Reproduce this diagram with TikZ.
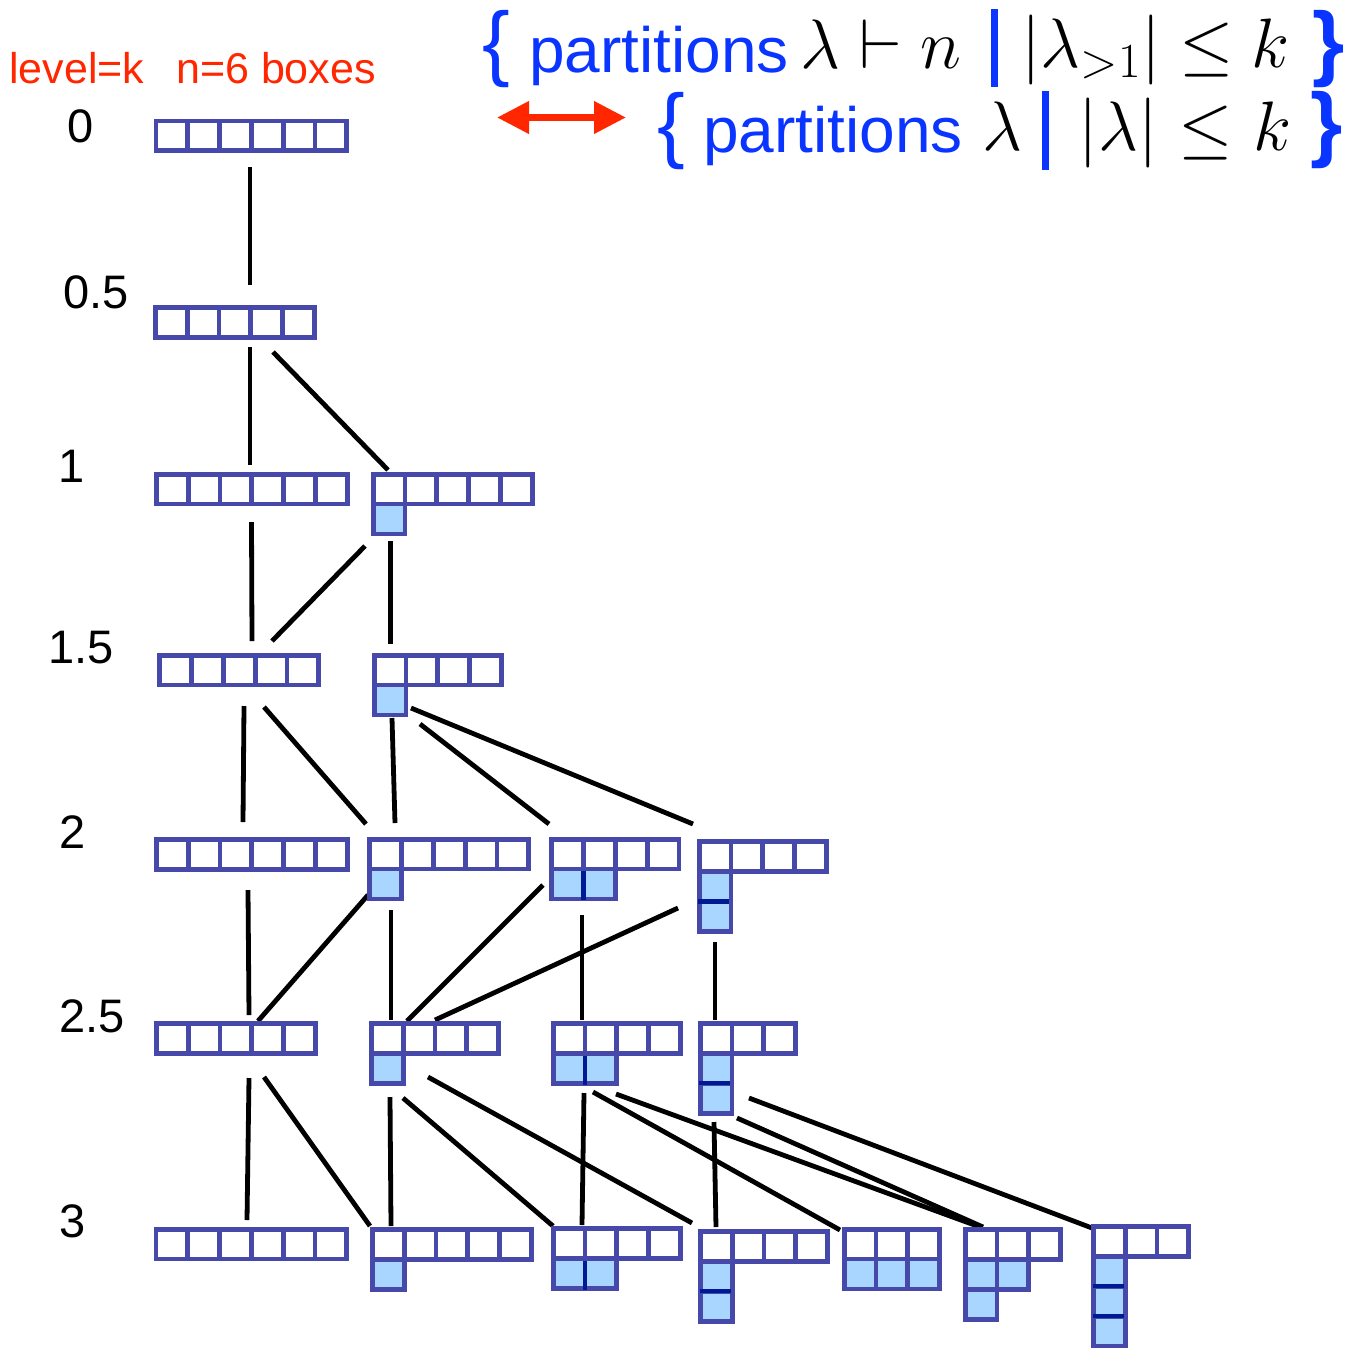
\RequirePackage{fix-cm}
\documentclass[tikz,border=0pt]{standalone}
\usepackage[no-math]{fontspec}
\setmainfont{Liberation Sans}
\usetikzlibrary{arrows.meta}
\definecolor{ybox}{RGB}{70,72,170}
\definecolor{ylight}{RGB}{168,214,255}
\definecolor{ysep}{RGB}{0,26,150}
\definecolor{tblue}{RGB}{10,52,255}
\definecolor{tred}{RGB}{255,38,0}
\newcommand\cellw{31.8}
\newcommand\cellh{29.9}
\newcommand\ydiag[3]{%
 \begin{scope}[shift={(#1+2.4,#2+2.4)}]
 \foreach \rl [count=\j from 0] in {#3} {
   \foreach \i in {1,...,\rl} {
     \ifnum\j=0
       \draw[wcell] ({(\i-1)*\cellw},{\j*\cellh}) rectangle ++(\cellw,\cellh);
     \else
       \draw[bcell] ({(\i-1)*\cellw},{\j*\cellh}) rectangle ++(\cellw,\cellh);
     \fi
   }
 }
 \end{scope}}
\newcommand\sepv[2]{%
 \draw[sepline] ({#1+2.4+\cellw},{#2+2.4+\cellh+2.4}) -- ({#1+2.4+\cellw},{#2+2.4+2*\cellh+1.5});}
\newcommand\seph[3]{%
 \draw[sepline] ({#1+1.5},{#2+2.4+#3*\cellh}) -- ({#1+2.4+\cellw-1.5},{#2+2.4+#3*\cellh});}
\tikzset{
 wcell/.style={draw=ybox, line width=4.8pt, fill=white},
 bcell/.style={draw=ybox, line width=4.8pt, fill=ylight},
 sepline/.style={draw=ysep, line width=4.2pt},
 edge/.style={draw=black, line width=4.8pt},
 lvl/.style={font=\fontsize{47}{50}\selectfont, anchor=base west, inner sep=0pt},
 redt/.style={font=\fontsize{43}{45}\selectfont, text=tred, anchor=base west, inner sep=0pt},
 bt/.style={font=\fontsize{64}{66}\selectfont, text=tblue, anchor=base west, inner sep=0pt},
 bro/.style={font=\fontsize{83}{85}\selectfont, text=tblue, anchor=base, inner sep=0pt},
 brc/.style={font=\fontsize{83}{85}\selectfont\bfseries, text=tblue, anchor=base, inner sep=0pt},
 mt/.style={font=\fontsize{70}{72}\selectfont, anchor=base, inner sep=0pt},
 bluebar/.style={draw=tblue, line width=7pt},
 dblarrow/.style={draw=tred, fill=tred, line width=7pt, {Triangle[length=32pt,width=31pt]}-{Triangle[length=32pt,width=31pt]}}
}
\begin{document}
\begin{tikzpicture}[x=1pt,y=-1pt]
\useasboundingbox (0,0) rectangle (1355,1353);
\fill[white] (0,0) rectangle (1355,1353);

% header texts
\node[redt] (lk) at (9,83) {level=k};
\node[redt] (nb) at (176,83) {n=6 boxes};

\node[bro] (ob1) at (496,70.6) {\{};
\node[bt] (p1) at (529,72) {partitions};
\node[mt] (m1a) at (820.5,68) {$\lambda$};
\node[mt] (m1b) at (881,68) {$\vdash$};
\node[mt] (m1c) at (941,68) {$n$};
\coordinate (bar1t) at (994.5,9);
\coordinate (bar1b) at (994.5,87);
\draw[bluebar] (bar1t) -- (bar1b);
\node[mt] (m1d) at (1091,67) {$|\lambda_{>1}|$};
\node[mt] (m1e) at (1207,67) {$\leq$};
\node[mt] (m1f) at (1270,67) {$k$};
\node[brc] (cb1) at (1329,70) {\}};

\node[bro] (ob2) at (671,152.6) {\{};
\node[bt] (p2) at (703,152) {partitions};
\node[mt] (m2a) at (1002,150) {$\lambda$};
\coordinate (bar2t) at (1045.5,91);
\coordinate (bar2b) at (1045.5,170);
\draw[bluebar] (bar2t) -- (bar2b);
\node[mt] (m2b) at (1118,150) {$|\lambda|$};
\node[mt] (m2c) at (1206,150) {$\leq$};
\node[mt] (m2d) at (1272,150) {$k$};
\node[brc] (cb2) at (1327,151) {\}};

\coordinate (arrL) at (497,117.5);
\coordinate (arrR) at (626,117.5);
\draw[dblarrow] (arrL) -- (arrR);

% level labels
\node[lvl] (k0) at (67,142) {0};
\node[lvl] (k05) at (63,308) {0.5};
\node[lvl] (k1) at (58,482) {1};
\node[lvl] (k15) at (48,663) {1.5};
\node[lvl] (k2) at (59,848) {2};
\node[lvl] (k25) at (59,1032) {2.5};
\node[lvl] (k3) at (59,1237) {3};

% connectors
\foreach \a/\b/\c/\d [count=\k] in {
 250/167/250/285,
 250/347/250/465,
 273/352/388/470,
 251.5/522/252/641,
 365/546/272/641,
 390.5/541/390.5/644,
 244/706/243/822,
 264/707/366/824,
 392/718/395/823,
 420/724/549/824,
 411/708/693/824,
 248/890/249/1015,
 368/895/258/1021,
 391/910/391/1020,
 543/885/407/1021,
 678/908/435/1020,
 582/915/582/1020,
 715/942/715/1020,
 249/1078/247/1220,
 264/1077/370/1226,
 390/1097/391/1226,
 403/1098/553/1226,
 428/1077/692/1223,
 584/1093/582/1225,
 593/1092/840/1230,
 616/1094/980/1227,
 714/1122/716/1227,
 737/1118/983/1227,
 749/1098/1092/1228} {
 \coordinate (s\k) at (\a,\b);
 \coordinate (t\k) at (\c,\d);
 \draw[edge] (s\k) -- (t\k);
}

% Young diagrams
\ydiag{153.5}{118.5}{6}
\ydiag{153}{305}{5}
\ydiag{154}{471.7}{6}
\ydiag{370.7}{471.7}{5,1}
\ydiag{157.3}{652.7}{5}
\ydiag{371.7}{652.7}{4,1}
\ydiag{154}{837}{6}
\ydiag{367.3}{836.7}{5,1}
\ydiag{549.3}{836.7}{4,2}\sepv{549.3}{836.7}
\ydiag{696.7}{839.3}{4,1,1}\seph{696.7}{839.3}{2}
\ydiag{154}{1021}{5}
\ydiag{369}{1021}{4,1}
\ydiag{550.7}{1021}{4,2}\sepv{550.7}{1021}
\ydiag{697.7}{1021}{3,1,1}\seph{697.7}{1021}{2}
\ydiag{153.5}{1226.7}{6}
\ydiag{370}{1227}{5,1}
\ydiag{550.7}{1226}{4,2}\sepv{550.7}{1226}
\ydiag{698}{1229}{4,1,1}\seph{698}{1229}{2}
\ydiag{841.7}{1226.7}{3,3}
\ydiag{962.7}{1227.3}{3,2,1}
\ydiag{1091}{1224}{3,1,1,1}\seph{1091}{1224}{2}\seph{1091}{1224}{3}
\end{tikzpicture}
\end{document}
